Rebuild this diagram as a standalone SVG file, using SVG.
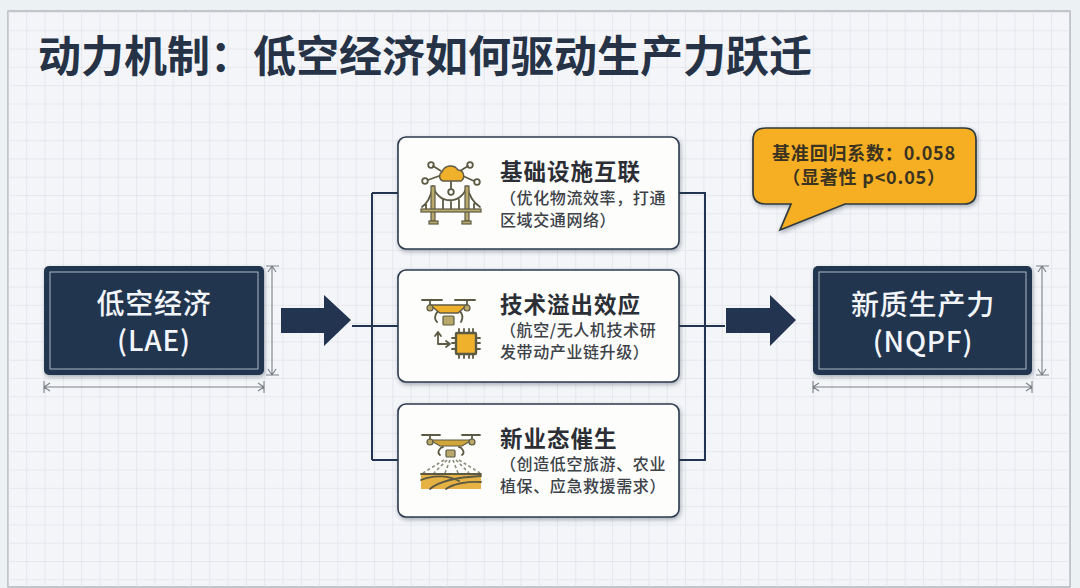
<svg xmlns="http://www.w3.org/2000/svg" width="1080" height="588" viewBox="0 0 1080 588">
<style>
text{font-family:"Noto Sans CJK SC","Noto Sans",sans-serif}
.t{font-size:43px;font-weight:700;fill:#263347}
.n{font-size:28px;font-weight:500;fill:#f2f6fa;text-anchor:middle;letter-spacing:.8px}
.c{fill:#fdfdfc;stroke:#2c3a4e;stroke-width:1.6;filter:url(#sh)}
.h{font-size:22.5px;font-weight:700;fill:#2b2f35;letter-spacing:1px}
.s{font-size:16px;font-weight:500;fill:#3c4248;letter-spacing:.6px}
.b{font-size:18px;font-weight:700;fill:#3a3322;text-anchor:middle;letter-spacing:.8px}
.d{fill:none;stroke:#7c8288;stroke-width:1.1}
.w{fill:none;stroke:#22344f;stroke-width:2}
.i{fill:none;stroke:#5d5a44;stroke-width:1.8;stroke-linecap:round;stroke-linejoin:round}
.f{fill:#efb02c;stroke:#5d5a44;stroke-width:1.4}
.g{fill:#b8a86a;stroke:#5d5a44;stroke-width:1.2}
</style>
<defs>
<pattern id="grid" width="18.3" height="18.3" patternUnits="userSpaceOnUse" x="8" y="12">
<path d="M0 0H18.3M0 0V18.3" fill="none" stroke="#d9dbe1" stroke-width="1"/>
</pattern>
<filter id="sh" x="-10%" y="-10%" width="120%" height="125%"><feDropShadow dx="1" dy="2" stdDeviation="2.2" flood-color="#33404f" flood-opacity=".4"/></filter>
</defs>
<rect width="1080" height="588" fill="#ecf1f4"/>
<rect x="8" y="11" width="1062" height="576" fill="#f4f5f9" stroke="#a3a7ab" stroke-width="1.2"/>
<rect x="8" y="11" width="1062" height="576" fill="url(#grid)"/>
<text class="t" x="38" y="72">动力机制&#xFF1A;低空经济如何驱动生产力跃迁</text>

<g id="connectors">
<path class="w" d="M352 326H398M372 193V460M372 193H398M372 460H398M679 193H705V460H679M679 326H725"/>
<path id="arrow-left" d="M281 308H324V295L351 320L324 346V333H281Z" fill="#22344f"/>
<path id="arrow-right" d="M726 308H770V295L796 320L770 346V333H726Z" fill="#22344f"/>
</g>

<g id="dims">
<path class="d" d="M272 266V375M266 266H279M266 375H279M268 272L272 266L276 272M268 369L272 375L276 369"/>
<path class="d" d="M44 387H264M44 381V393M264 381V393M50 383L44 387L50 391M258 383L264 387L258 391"/>
<path class="d" d="M1042 266V375M1036 266H1049M1036 375H1049M1038 272L1042 266L1046 272M1038 369L1042 375L1046 369"/>
<path class="d" d="M813 387H1032M813 381V393M1032 381V393M819 383L813 387L819 391M1026 383L1032 387L1026 391"/>
</g>

<g id="node-lae">
<rect x="44" y="266" width="220" height="109" rx="5" fill="#22344f" filter="url(#sh)"/>
<rect x="50" y="272" width="208" height="97" fill="none" stroke="#a9b9c9" stroke-width="1"/>
<text class="n" x="154" y="314">低空经济</text>
<text class="n" x="154" y="351">(LAE)</text>
</g>

<g id="node-nqpf">
<rect x="813" y="266" width="219" height="109" rx="5" fill="#22344f" filter="url(#sh)"/>
<rect x="819" y="272" width="207" height="97" fill="none" stroke="#a9b9c9" stroke-width="1"/>
<text class="n" x="923" y="315">新质生产力</text>
<text class="n" x="923" y="352">(NQPF)</text>
</g>

<g id="node-infra">
<rect class="c" x="398" y="137" width="281" height="112" rx="8"/>
<path class="i" d="M433 166L441 171M468 166L460 171M428 180L439 176M474 181L463 176M451 182V188"/>
<circle class="i" cx="431" cy="165" r="2.8"/><circle class="i" cx="470" cy="165" r="2.8"/><circle class="i" cx="425" cy="181" r="2.8"/><circle class="i" cx="477" cy="182" r="2.8"/><circle class="i" cx="451" cy="192" r="2.8"/>
<path class="f" d="M443 181a5 5 0 0 1 -1-9a9 9 0 0 1 16-2a6 6 0 0 1 3 11Z"/>
<path class="i" d="M422 207C428 203 431 196 433 186C438 205 462 205 467 186C469 196 474 203 480 207M443 200V209M451 202V209M459 200V209M426 204V209M474 204V209"/>
<rect class="g" x="431" y="186" width="4" height="35"/><rect class="g" x="465" y="186" width="4" height="35"/>
<rect class="g" x="421" y="209" width="60" height="3"/><rect class="g" x="429" y="221" width="9" height="3"/><rect class="g" x="462" y="221" width="9" height="3"/>
<text class="h" x="500" y="180">基础设施互联</text>
<text class="s" x="500" y="204">&#xFF08;优化物流效率&#xFF0C;打通</text>
<text class="s" x="500" y="226">区域交通网络&#xFF09;</text>
</g>

<g id="node-spill">
<rect class="c" x="398" y="270" width="281" height="112" rx="8"/>
<path class="i" d="M422 300H442M455 300H475M430 301V306M467 301V306M437 322C433 318 436 311 441 310M461 322C464 317 462 311 457 310"/>
<path class="f" d="M430 305H467L458 313H440Z"/>
<circle class="g" cx="430" cy="308" r="3"/><circle class="g" cx="467" cy="308" r="3"/>
<rect class="g" x="443" y="316" width="11" height="9" rx="1"/>
<path class="i" d="M438 332V344H449M435 336L438 332L441 336M446 341L450 344L446 347"/>
<rect x="456" y="333" width="20" height="21" fill="#efb02c" stroke="#5d5a44" stroke-width="2.4" rx="1"/>
<path class="i" d="M459 329V333M464 329V333M469 329V333M473 329V333M459 354V358M464 354V358M469 354V358M473 354V358M452 338H456M452 343H456M452 349H456M476 338H480M476 343H480M476 349H480"/>
<text class="h" x="500" y="313">技术溢出效应</text>
<text class="s" x="500" y="336">&#xFF08;航空/无人机技术研</text>
<text class="s" x="500" y="358">发带动产业链升级&#xFF09;</text>
</g>

<g id="node-new">
<rect class="c" x="398" y="404" width="281" height="113" rx="8"/>
<path class="i" d="M422 435H440M462 435H480M430 436V441M472 436V441"/>
<path class="g" d="M430 440H472L462 446H440Z" style="fill:#d0a63a"/>
<circle class="g" cx="430" cy="442" r="3"/><circle class="g" cx="472" cy="442" r="3"/>
<path class="i" d="M440 455C436 452 441 447 443 447M462 455C466 452 461 447 459 447"/>
<rect class="g" x="446" y="450" width="9" height="7" rx="1"/>
<path d="M444 460L423 473M447 460L434 473M450 460L445 473M453 460L458 473M456 460L469 473M459 460L480 473" fill="none" stroke="#8b8a78" stroke-width="1.6" stroke-dasharray="3 2.5"/>
<rect x="421" y="474" width="60" height="15" fill="#e7b244"/>
<path class="i" d="M421 474H481M421 480C435 474 450 476 459 481M430 489C440 480 462 477 481 476M446 489C452 484 468 481 481 482" stroke-width="1.4"/>
<text class="h" x="500" y="447">新业态催生</text>
<text class="s" x="500" y="470">&#xFF08;创造低空旅游、农业</text>
<text class="s" x="500" y="492">植保、应急救援需求&#xFF09;</text>
</g>

<g id="callout">
<path d="M766 128H964Q976 128 976 140V192Q976 204 964 204H845L780 230L791 204H766Q753 204 753 192V140Q753 128 766 128Z" fill="#f6ae22" stroke="#2f3a3e" stroke-width="1.7" filter="url(#sh)"/>
<text class="b" x="864" y="160">基准回归系数&#xFF1A;0.058</text>
<text class="b" x="864" y="184">&#xFF08;显著性 p&lt;0.05&#xFF09;</text>
</g>
</svg>
